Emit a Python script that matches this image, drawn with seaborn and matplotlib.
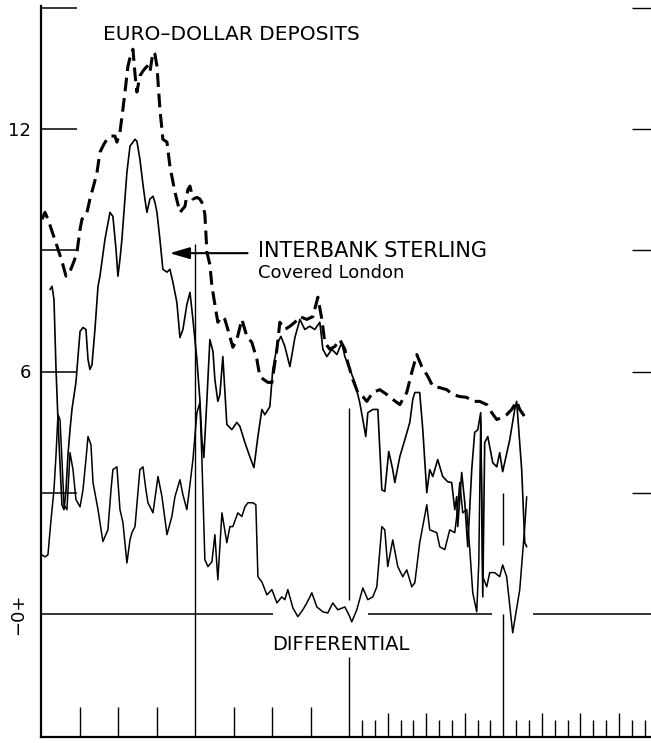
import seaborn as sns
import pandas as pd
from matplotlib import pyplot as plt

# months since start of chart (x) and percent (y)
euro_month = [0.08, 0.31, 0.54, 0.86, 1.25, 1.63, 1.95, 2.26, 2.57, 2.80, 3.04, 3.19, 3.58, 3.81, 4.12,
              4.36, 4.59, 4.90, 5.14, 5.45, 5.76, 5.91, 6.15, 6.38, 6.54, 6.77, 7.00, 7.16, 7.32, 7.47,
              7.70, 7.94, 8.25, 8.48, 8.72, 8.87, 9.03, 9.26, 9.49, 9.81, 10.04, 10.43, 10.82, 11.21,
              11.44, 11.60, 11.83, 12.14, 12.37, 12.61, 12.76, 12.92, 13.15, 13.31, 13.54, 13.77, 14.09,
              14.32, 14.55, 14.94, 15.25, 15.64, 16.03, 16.42, 16.81, 17.04, 17.35, 17.67, 17.98, 18.37,
              18.60, 18.99, 19.38, 19.77, 20.16, 20.70, 21.17, 21.56, 21.87, 22.10, 22.49, 22.88, 23.27,
              23.66, 23.89, 24.28, 24.67, 25.06, 25.37, 25.84, 26.38, 26.93, 27.39, 27.94, 28.48, 28.87,
              29.26, 29.65, 30.12, 30.51, 31.05, 31.60, 32.06, 32.61, 33.15, 33.62, 34.16, 34.71, 35.10,
              35.49, 35.88, 36.26, 36.65, 37.04, 37.28, 37.67, 38.05]
euro_rate = [9.77, 9.94, 9.77, 9.47, 9.10, 8.73, 8.36, 8.48, 8.73, 8.95, 9.52, 9.77, 9.94, 10.27, 10.63,
             10.93, 11.43, 11.63, 11.75, 11.83, 11.83, 11.68, 11.93, 12.50, 12.92, 13.56, 13.86, 13.98,
             13.36, 12.92, 13.32, 13.44, 13.56, 13.41, 13.91, 13.86, 13.56, 12.50, 11.75, 11.68, 11.08,
             10.44, 9.94, 10.09, 10.51, 10.59, 10.27, 10.31, 10.27, 10.14, 9.89, 8.95, 8.65, 8.11, 7.66,
             7.22, 7.36, 7.29, 7.04, 6.60, 6.79, 7.29, 6.87, 6.72, 6.30, 5.88, 5.80, 5.73, 5.73, 6.55,
             7.22, 7.04, 7.12, 7.22, 7.36, 7.29, 7.36, 7.84, 7.29, 6.72, 6.55, 6.62, 6.79, 6.55, 6.22,
             5.80, 5.48, 5.38, 5.26, 5.48, 5.55, 5.43, 5.31, 5.18, 5.48, 5.98, 6.42, 6.12, 5.88, 5.63,
             5.60, 5.55, 5.43, 5.38, 5.36, 5.26, 5.26, 5.18, 4.98, 4.81, 4.86, 4.93, 5.06, 5.26, 5.06,
             4.88, 4.88]

sterling_month = [0.70, 0.86, 1.01, 1.17, 1.32, 1.48, 1.63, 1.79, 1.95, 2.10, 2.26, 2.41, 2.72, 3.04,
                  3.27, 3.50, 3.66, 3.81, 3.97, 4.20, 4.44, 4.59, 4.98, 5.37, 5.60, 5.84, 5.99, 6.15,
                  6.30, 6.69, 6.93, 7.16, 7.32, 7.47, 7.70, 7.94, 8.09, 8.25, 8.48, 8.72, 8.87, 9.03,
                  9.26, 9.49, 9.81, 10.04, 10.27, 10.58, 10.82, 11.05, 11.36, 11.60, 11.83, 12.14, 12.37,
                  12.53, 12.68, 12.92, 13.15, 13.39, 13.54, 13.77, 13.93, 14.16, 14.47, 14.86, 15.25,
                  15.49, 15.88, 16.26, 16.58, 16.89, 17.20, 17.43, 17.82, 18.05, 18.44, 18.68, 18.99,
                  19.38, 19.77, 20.16, 20.54, 20.93, 21.32, 21.71, 21.95, 22.26, 22.65, 23.04, 23.42,
                  23.66, 24.05, 24.44, 24.82, 25.06, 25.29, 25.45, 25.84, 26.23, 26.54, 26.77, 27.08,
                  27.39, 27.55, 27.94, 28.33, 28.72, 28.95, 29.11, 29.49, 29.73, 30.04, 30.27, 30.51,
                  30.89, 31.28, 31.67, 31.98, 32.22, 32.37, 32.45, 32.76, 33.00, 33.23, 33.54, 33.77,
                  34.01, 34.24, 34.40, 34.55, 34.79, 35.18, 35.49, 35.72, 35.95, 36.50, 36.89, 37.04,
                  37.43, 37.67, 37.82]
sterling_rate = [8.03, 8.11, 7.79, 6.05, 4.81, 3.69, 2.70, 2.58, 3.07, 3.94, 4.56, 5.06, 5.73, 6.99,
                 7.09, 7.04, 6.30, 6.05, 6.17, 7.04, 8.11, 8.36, 9.27, 9.94, 9.84, 9.03, 8.36, 8.78,
                 9.27, 10.93, 11.58, 11.68, 11.75, 11.70, 11.26, 10.63, 10.27, 9.94, 10.27, 10.34, 10.19,
                 9.94, 9.27, 8.53, 8.46, 8.53, 8.21, 7.71, 6.84, 7.04, 7.66, 7.96, 7.29, 6.30, 5.31,
                 4.31, 3.87, 5.31, 6.79, 6.50, 5.80, 5.26, 5.43, 6.37, 4.69, 4.56, 4.74, 4.64, 4.24,
                 3.89, 3.62, 4.39, 5.06, 4.93, 5.13, 6.05, 6.72, 6.87, 6.62, 6.12, 6.84, 7.29, 7.04,
                 7.12, 7.04, 7.22, 6.55, 6.37, 6.55, 6.42, 6.72, 6.37, 6.05, 5.73, 5.23, 4.81, 4.39,
                 4.98, 5.06, 5.06, 3.07, 3.03, 4.02, 3.57, 3.25, 3.89, 4.31, 4.74, 5.31, 5.48, 5.48,
                 4.56, 3.00, 3.57, 3.40, 3.82, 3.40, 3.27, 3.25, 2.58, 2.90, 2.16, 3.50, 2.75, 1.66,
                 3.57, 4.49, 4.56, 4.98, 0.42, 4.24, 4.39, 3.74, 3.64, 3.99, 3.52, 4.31, 5.06, 5.26,
                 3.57, 1.76, 1.66]

diff_month = [0.08, 0.31, 0.54, 0.78, 1.01, 1.17, 1.32, 1.48, 1.63, 1.79, 2.02, 2.26, 2.49, 2.72, 3.04,
              3.27, 3.50, 3.66, 3.89, 4.05, 4.44, 4.82, 5.21, 5.45, 5.60, 5.91, 6.15, 6.38, 6.69, 6.93,
              7.08, 7.32, 7.70, 7.94, 8.17, 8.33, 8.72, 9.11, 9.42, 9.81, 10.19, 10.43, 10.82, 11.05,
              11.36, 11.60, 11.83, 12.14, 12.37, 12.53, 12.76, 13.00, 13.31, 13.54, 13.77, 14.09, 14.47,
              14.71, 14.94, 15.33, 15.64, 15.88, 16.11, 16.50, 16.73, 16.89, 17.20, 17.59, 17.98, 18.37,
              18.75, 18.99, 19.22, 19.61, 20.00, 20.39, 20.70, 21.09, 21.48, 21.95, 22.33, 22.72, 23.11,
              23.66, 23.97, 24.20, 24.59, 25.06, 25.45, 25.84, 26.15, 26.54, 26.77, 27.00, 27.39, 27.78,
              28.17, 28.48, 28.87, 29.11, 29.49, 30.04, 30.27, 30.82, 31.05, 31.44, 31.83, 32.22, 32.37,
              32.61, 32.84, 33.15, 33.39, 33.62, 33.93, 34.09, 34.24, 34.40, 34.71, 34.94, 35.33, 35.72,
              35.95, 36.26, 36.73, 37.28, 37.67, 37.82]
diff_rate = [1.46, 1.41, 1.46, 2.33, 3.07, 3.94, 4.93, 4.81, 3.82, 2.70, 2.58, 3.99, 3.57, 2.83, 2.65,
             3.07, 3.82, 4.39, 4.19, 3.25, 2.58, 1.79, 2.08, 3.07, 3.57, 3.64, 2.58, 2.26, 1.26, 1.83,
             2.01, 2.16, 3.57, 3.64, 3.07, 2.75, 2.50, 3.40, 2.90, 1.96, 2.41, 2.90, 3.32, 2.95, 2.58,
             3.20, 3.82, 4.98, 5.23, 3.82, 1.34, 1.17, 1.29, 1.96, 0.84, 2.50, 1.76, 2.16, 2.16, 2.50,
             2.41, 2.65, 2.75, 2.75, 2.70, 0.92, 0.79, 0.47, 0.60, 0.27, 0.42, 0.35, 0.60, 0.15, -0.07,
             0.10, 0.27, 0.52, 0.17, 0.05, 0.02, 0.27, 0.10, 0.17, -0.02, -0.20, 0.10, 0.64, 0.35, 0.42,
             0.67, 2.16, 2.08, 1.17, 1.83, 1.17, 0.92, 1.09, 0.67, 0.77, 1.76, 2.70, 2.08, 2.01, 1.66,
             1.59, 2.08, 2.01, 2.41, 3.25, 2.50, 2.58, 1.59, 0.52, 0.05, 1.26, 4.81, 0.92, 0.67, 1.02,
             1.02, 0.92, 1.21, 0.92, -0.47, 0.60, 2.16, 2.90]

y_ticks = [3, 6, 9, 12, 15]
y_tick_labels = ["", "6", "", "12", ""]


def main():
    sns.set_style("white")
    plt.rcParams["font.family"] = ["DejaVu Sans"]
    plt.rcParams["text.color"] = "black"
    plt.rcParams["ytick.color"] = "black"

    euro_df = pd.DataFrame({"month": euro_month, "rate": euro_rate})
    sterling_df = pd.DataFrame({"month": sterling_month, "rate": sterling_rate})
    diff_df = pd.DataFrame({"month": diff_month, "rate": diff_rate})

    fig = plt.figure(figsize=(6.51, 7.43), dpi=100)
    ax = fig.add_axes([41 / 651, 6 / 743, 610 / 651, 731 / 743])

    sns.lineplot(data=euro_df, x="month", y="rate", sort=False, estimator=None,
                 color="black", linewidth=2.2, linestyle=(0, (4.5, 2.2)), ax=ax)
    sns.lineplot(data=sterling_df, x="month", y="rate", sort=False, estimator=None,
                 color="black", linewidth=1.2, ax=ax)
    sns.lineplot(data=diff_df, x="month", y="rate", sort=False, estimator=None,
                 color="black", linewidth=1.1, ax=ax)

    ax.set_xlim(0, 47.5)
    ax.set_ylim(-3.05, 15.05)
    ax.set_xlabel("")
    ax.set_ylabel("")
    ax.set_xticks([])
    ax.set_yticks(y_ticks)
    ax.set_yticklabels(y_tick_labels, fontsize=13, color="black")
    ax.tick_params(axis="y", direction="in", length=26, width=1.1, pad=7, left=True)
    for s in ["top", "right"]:
        ax.spines[s].set_visible(False)
    for s in ["left", "bottom"]:
        ax.spines[s].set_linewidth(1.6)
        ax.spines[s].set_color("black")

    # short marks on the right side
    ax2 = ax.twinx()
    ax2.set_ylim(ax.get_ylim())
    ax2.set_yticks(y_ticks)
    ax2.set_yticklabels([])
    ax2.tick_params(axis="y", direction="in", length=14, width=1.0, right=True)
    for s in ["top", "right", "left", "bottom"]:
        ax2.spines[s].set_visible(False)

    # zero line, broken around the labels
    ax.hlines(0, 0, 18.05, color="black", lw=1.1)
    ax.hlines(0, 25.5, 35.1, color="black", lw=1.1)
    ax.hlines(0, 38.3, 47.5, color="black", lw=1.1)

    # year dividers
    ax.vlines(12, -3.05, 9.15, color="black", lw=1.0)
    ax.vlines(24, -3.05, -1.07, color="black", lw=1.0)
    ax.vlines(24, 0.35, 5.1, color="black", lw=1.0)
    ax.vlines(36, -3.05, 0.0, color="black", lw=1.0)
    ax.vlines(36, 1.7, 3.0, color="black", lw=1.0)

    # bottom tick marks (quarters, then months)
    tr = ax.get_xaxis_transform()
    ax.vlines([3, 6, 9, 15, 18, 21], 0, 0.041, color="black", lw=1.0, transform=tr)
    ax.vlines([27, 30, 33, 39, 42, 45], 0, 0.033, color="black", lw=1.0, transform=tr)
    months = [m for m in range(25, 48) if m % 3 != 0]
    ax.vlines(months, 0, 0.023, color="black", lw=1.0, transform=tr)

    ax.text(-0.038, 0.0, "\u22120+", rotation=90, ha="center", va="center",
            fontsize=13, color="black", transform=ax.get_yaxis_transform())

    fig.text(103 / 651, 1 - 34 / 743, "EURO\u2013DOLLAR DEPOSITS", fontsize=14.5,
             ha="left", va="center")
    fig.text(258 / 651, 1 - 251 / 743, "INTERBANK STERLING", fontsize=15,
             ha="left", va="center")
    fig.text(258 / 651, 1 - 273 / 743, "Covered London", fontsize=13,
             ha="left", va="center")
    fig.text(272 / 651, 1 - 645 / 743, "DIFFERENTIAL", fontsize=14,
             ha="left", va="center")

    ax.annotate("", xy=(9.8, 8.93), xytext=(16.3, 8.93),
                arrowprops=dict(arrowstyle="-|>,head_length=1.2,head_width=0.35",
                                color="black", lw=1.5))

    plt.savefig("out.png", dpi=100)


if __name__ == "__main__":
    main()
